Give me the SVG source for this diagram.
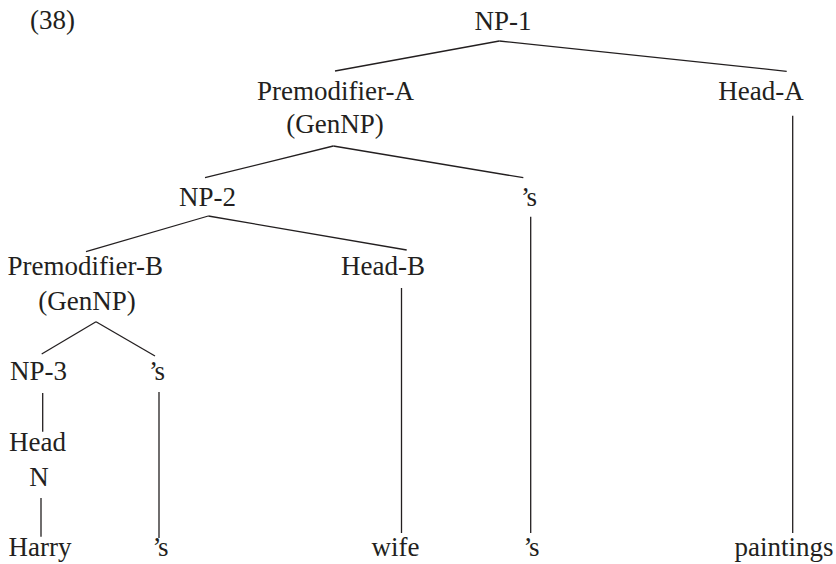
<svg xmlns="http://www.w3.org/2000/svg" width="836" height="564" viewBox="0 0 836 564">
<style>
text{font-family:'Liberation Serif','DejaVu Serif','Times New Roman',serif;font-size:27px;fill:#231f20;text-anchor:middle}
.ap{letter-spacing:-2px}
#connectors line{stroke:#231f20;stroke-width:1.3;fill:none}
</style>
<rect width="836" height="564" fill="#ffffff"/>
<text x="30" y="29" style="text-anchor:start">(38)</text>
<g id="connectors">
<line x1="499.3" y1="41" x2="335" y2="71"/>
<line x1="499.3" y1="41" x2="786.7" y2="71.3"/>
<line x1="333.3" y1="146" x2="205" y2="177.7"/>
<line x1="333.3" y1="146" x2="523.3" y2="177.7"/>
<line x1="208.3" y1="216" x2="86" y2="251.7"/>
<line x1="208.3" y1="216" x2="406.7" y2="250"/>
<line x1="792.7" y1="115.7" x2="792.7" y2="533"/>
<line x1="530.7" y1="216.7" x2="530.7" y2="533"/>
<line x1="401.5" y1="288" x2="401.5" y2="533"/>
<line x1="96" y1="321.7" x2="41.7" y2="354"/>
<line x1="96" y1="321.7" x2="155" y2="356"/>
<line x1="42.7" y1="393" x2="42.7" y2="431.7"/>
<line x1="159" y1="392" x2="159" y2="538"/>
<line x1="41" y1="498" x2="41" y2="536.7"/>
</g>
<g id="np1"><text x="503" y="30">NP-1</text></g>
<g id="premodA"><text x="335.5" y="100">Premodifier-A</text><text x="335" y="133">(GenNP)</text></g>
<g id="headA"><text x="761" y="100">Head-A</text></g>
<g id="np2"><text x="207.5" y="206">NP-2</text></g>
<g id="genA"><text class="ap" x="528" y="206">’s</text></g>
<g id="premodB"><text x="85.3" y="275">Premodifier-B</text><text x="87" y="310">(GenNP)</text></g>
<g id="headB"><text x="383" y="275">Head-B</text></g>
<g id="np3"><text x="38.5" y="380">NP-3</text></g>
<g id="genB"><text class="ap" x="156" y="380">’s</text></g>
<g id="headN"><text x="37.5" y="451">Head</text><text x="39" y="486">N</text></g>
<g id="harry"><text x="40" y="556">Harry</text></g>
<g id="s1"><text class="ap" x="159.5" y="556">’s</text></g>
<g id="wife"><text x="395.5" y="556">wife</text></g>
<g id="s2"><text class="ap" x="530.5" y="556">’s</text></g>
<g id="paintings"><text x="784" y="556">paintings</text></g>
</svg>
